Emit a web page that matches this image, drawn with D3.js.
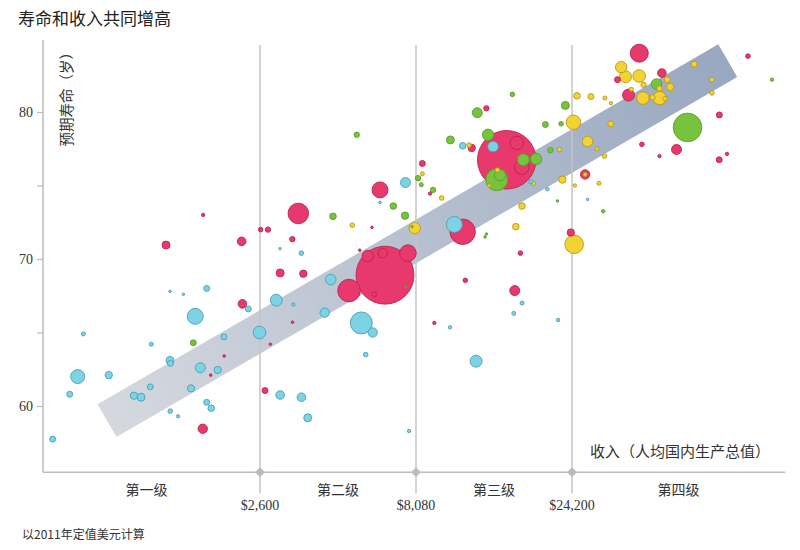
<!DOCTYPE html>
<html><head><meta charset="utf-8">
<script src="https://cdn.jsdelivr.net/npm/d3@7"></script>
<style>body{margin:0;background:#fff} svg{display:block}</style>
</head><body><svg id="c" width="800" height="550"></svg>
<script>
// ---------- text ----------
const titleText = "寿命和收入共同增高";
const yTitle = "预期寿命（岁）";
const xTitle = "收入（人均国内生产总值）";
const footnote = "以2011年定值美元计算";
const tierNames = ["第一级", "第二级", "第三级", "第四级"];
const tierBreaks = [2600, 8080, 24200];
const tierBreakLabels = ["$2,600", "$8,080", "$24,200"];
const yTickValues = [60, 65, 70, 75, 80];
const yLabelValues = [60, 70, 80];
const axisIncomeRange = [537, 108400];
const axisLifeRange = [55.5, 84.9];
// trend band: [income, life] at both ends
const bandStart = [855, 59.0];
const bandEnd = [72350, 83.5];

// ---------- data: [income $, life expectancy, population (millions)] ----------
const groupCyan = [
  [1352,67.8,2.6],[1489,67.6,2.6],[1765,68.0,14],[2388,66.6,14],[1624,66.1,100],
  [2590,65.0,62],[720,64.9,6.3],[1180,64.2,6.3],[2001,64.7,14],[1352,63.1,25],
  [1356,62.9,14],[1685,62.6,39],[1912,62.45,21],[691,62.0,77],[866,62.1,21],
  [652,60.8,14],[1171,61.3,14],[1040,60.7,21],[1095,60.6,25],[1575,61.2,21],
  [1765,60.25,14],[1824,59.85,17],[1354,59.65,8.3],[1433,59.3,4.5],[576,57.75,14],
  [7485,75.2,39],[6220,73.85,2.6],[3007,70.7,2.6],[3511,70.4,8.3],[4347,68.6,44],
  [2927,67.2,56],[3312,66.9,4.5],[4161,66.35,34.5],[5429,65.65,189],[5897,65.0,34.5],
  [5605,63.5,8.3],[3010,60.75,29],[3514,60.6,29],[3678,59.2,25],[7680,58.3,4.5],
  [10265,65.35,4.5],[21950,65.85,4.5],[10580,72.35,100],[11220,77.7,17],[13890,77.65,44],
  [18110,75.25,6.3],[20350,74.75,4.5],[27000,74.05,2.6],[17040,67.0,6.3],[16070,66.3,6.3],
  [12325,63.05,56]
];
const groupRed = [
  [1720,73.0,4.5],[1313,70.95,25],[2276,71.2,29],[2613,72.0,8.3],[2755,72.0,11.4],
  [2288,66.95,29],[2004,63.4,2.6],[1817,62.1,2.6],[2697,61.05,14],[1715,58.45,34.5],
  [8448,76.5,14],[8918,74.45,4.5],[6220,74.7,100],[3435,73.1,166],[5867,72.15,2.6],
  [3289,71.35,11.4],[5367,70.6,2.6],[6450,68.9,1314],[5687,70.2,51],[6343,70.4,34.5],
  [7620,70.4,108],[4966,67.85,200],[5967,67.6,8.3],[3010,69.05,25],[3562,69.0,21],
  [3293,65.7,2.6],[2803,64.2,2.6],[9192,65.65,4.5],[11220,71.85,252],[13250,80.25,11.4],
  [11955,77.55,21],[15295,76.75,1341],[16410,77.9,70],[17000,76.25,83],[26540,75.75,34.5],
  [24000,71.8,21],[16840,70.4,8.3],[11430,68.55,8.3],[16180,67.85,39],[38840,84.0,127],
  [33320,82.2,14],[45530,82.65,29],[36000,81.15,56],[83400,83.8,8.3],[39560,77.8,8.3],
  [50470,77.45,39],[44770,77.0,4.5],[68200,79.8,14],[68140,76.75,14],[71940,77.15,4.5]
];
const groupGreen = [
  [1601,64.3,14],[5251,78.45,11.4],[8195,75.5,11.4],[8388,75.05,6.3],[9109,74.7,11.4],
  [6850,73.6,17],[7460,72.95,21],[4420,72.9,17],[7500,68.1,1.6],[15910,81.2,8.3],
  [12435,79.95,39],[23100,80.45,25],[20070,79.15,14],[22410,79.2,8.3],[10290,78.1,25],
  [13410,78.45,51],[18800,76.8,51],[17190,76.75,56],[14255,75.4,189],[14590,75.7,51],
  [20790,77.4,11.4],[21840,73.95,2.6],[13130,71.5,2.6],[13260,71.7,2.6],[43840,81.9,44],
  [54530,78.95,320],[98740,82.2,4.5],[30130,73.25,4.5],[7850,72.2,2.0]
];
const groupYellow = [
  [8448,75.8,6.3],[9680,74.15,8.3],[8005,72.1,51],[5086,72.3,8.3],[25060,81.1,17],
  [27650,81.05,14],[24440,79.3,83],[11730,77.75,8.3],[14330,76.05,8.3],[13530,75.0,4.5],
  [18410,75.15,8.3],[22150,77.45,8.3],[27000,78.0,44],[28830,77.5,6.3],[22620,75.4,21],
  [24690,75.0,4.5],[26540,75.75,6.3],[29240,75.15,6.3],[17020,73.6,17],[16300,72.2,17],
  [24570,71.0,135],[34200,83.05,51],[35260,82.4,56],[38810,82.45,62],[40030,81.85,11.4],
  [47270,82.2,14],[48290,81.7,21],[36700,81.55,6.3],[39840,80.95,62],[44770,81.6,11.4],
  [44830,80.95,70],[42620,81.0,11.4],[46510,80.9,8.3],[57150,83.25,14],[64740,82.2,8.3],
  [64740,81.3,8.3],[30490,80.95,6.3],[31830,80.6,4.5],[31800,79.2,14],[30410,77.0,8.3]
];
const groups = [
  {rows: groupCyan, fill: "#7dd3e3", stroke: "#4b9fb7"},
  {rows: groupRed, fill: "#e8396c", stroke: "#bb2452"},
  {rows: groupGreen, fill: "#76c33d", stroke: "#5a9d2e"},
  {rows: groupYellow, fill: "#f3d331", stroke: "#b99619"}
];

// ---------- scales ----------
const svg = d3.select("#c");
const x = d3.scaleLog().domain(tierBreaks).range([260, 416, 572]);
const y = d3.scaleLinear().domain([60, 80]).range([406, 112]);
const r = d3.scaleSqrt().domain([0, 1400]).range([0, 29.9]);
const serif = "'Liberation Serif','Noto Sans CJK SC',serif";
const cjk = "'Noto Sans CJK SC','Noto Sans',sans-serif";

const xL = x(axisIncomeRange[0]), xR = x(axisIncomeRange[1]);
const yB = y(axisLifeRange[0]), yT = y(axisLifeRange[1]);

// title
svg.append("text").attr("x", 18).attr("y", 25).text(titleText)
  .attr("font-family", cjk).attr("font-size", 17).attr("fill", "#222");

// band
const defs = svg.append("defs");
const p0 = [x(bandStart[0]), y(bandStart[1])], p1 = [x(bandEnd[0]), y(bandEnd[1])];
const grad = defs.append("linearGradient").attr("id", "bandGrad")
  .attr("gradientUnits", "userSpaceOnUse")
  .attr("x1", p0[0]).attr("y1", p0[1]).attr("x2", p1[0]).attr("y2", p1[1]);
grad.append("stop").attr("offset", 0).attr("stop-color", "#d5d8df");
grad.append("stop").attr("offset", 1).attr("stop-color", "#98a8c0");
const dx = p1[0]-p0[0], dy = p1[1]-p0[1], len = Math.hypot(dx, dy);
const hw = 18.9, nx = -dy/len*hw, ny = dx/len*hw;
svg.append("polygon")
  .attr("points", [[p0[0]-nx,p0[1]-ny],[p1[0]-nx,p1[1]-ny],[p1[0]+nx,p1[1]+ny],[p0[0]+nx,p0[1]+ny]].map(p=>p.join(",")).join(" "))
  .attr("fill", "url(#bandGrad)");

// gridlines at tier breaks
svg.selectAll("line.grid").data(tierBreaks).join("line").attr("class", "grid")
  .attr("x1", d => x(d)).attr("x2", d => x(d)).attr("y1", 45).attr("y2", yB + 21)
  .attr("stroke", "#c4c4c4").attr("stroke-width", 1.5);

// y axis
const yAxis = d3.axisLeft(y).tickValues(yTickValues).tickSize(6).tickPadding(4)
  .tickFormat(d => yLabelValues.includes(d) ? d : "");
const gy = svg.append("g").attr("transform", `translate(${xL},0)`).call(yAxis);
gy.select(".domain").remove();
gy.selectAll(".tick line").attr("stroke", "#bbb").attr("stroke-width", 1.2);
gy.selectAll(".tick text").attr("font-family", serif).attr("font-size", 14).attr("fill", "#333");
svg.append("line").attr("x1", xL).attr("x2", xL).attr("y1", yT).attr("y2", yB)
  .attr("stroke", "#bbb").attr("stroke-width", 1.5);
svg.append("text").attr("transform", `translate(72,45) rotate(-90)`)
  .attr("text-anchor", "end").text(yTitle)
  .attr("font-family", cjk).attr("font-size", 14.5).attr("fill", "#333");

// x axis
svg.append("line").attr("x1", xL).attr("x2", xR).attr("y1", yB).attr("y2", yB)
  .attr("stroke", "#bbb").attr("stroke-width", 1.5);
svg.selectAll("path.diamond").data(tierBreaks).join("path").attr("class", "diamond")
  .attr("d", d3.symbol(d3.symbolDiamond2, 60))
  .attr("transform", d => `translate(${x(d)},${yB})`).attr("fill", "#bbb");
svg.append("text").attr("x", 770).attr("y", 457).attr("text-anchor", "end").text(xTitle)
  .attr("font-family", cjk).attr("font-size", 15).attr("fill", "#333");
const bounds = [xL, ...tierBreaks.map(x), xR];
svg.selectAll("text.tier").data(tierNames).join("text").attr("class", "tier")
  .attr("x", (d, i) => (bounds[i] + bounds[i+1]) / 2 - (i === 0 ? 5 : 0)).attr("y", 495)
  .attr("text-anchor", "middle").text(d => d)
  .attr("font-family", cjk).attr("font-size", 14).attr("fill", "#333");
svg.selectAll("text.brk").data(tierBreaks).join("text").attr("class", "brk")
  .attr("x", d => x(d)).attr("y", 510).attr("text-anchor", "middle")
  .text((d, i) => tierBreakLabels[i])
  .attr("font-family", serif).attr("font-size", 14).attr("fill", "#333");
svg.append("text").attr("x", 22).attr("y", 539).text(footnote)
  .attr("font-family", cjk).attr("font-size", 12).attr("fill", "#333");

// bubbles
const pts = [];
groups.forEach(g => g.rows.forEach(([inc, life, pop]) => pts.push({inc, life, pop, fill: g.fill, stroke: g.stroke})));
pts.sort((a, b) => b.pop - a.pop);
svg.append("g").selectAll("circle").data(pts).join("circle")
  .attr("cx", d => x(d.inc)).attr("cy", d => y(d.life)).attr("r", d => r(d.pop))
  .attr("fill", d => d.fill).attr("stroke", d => d.stroke).attr("stroke-width", 0.9);
</script></body></html>
